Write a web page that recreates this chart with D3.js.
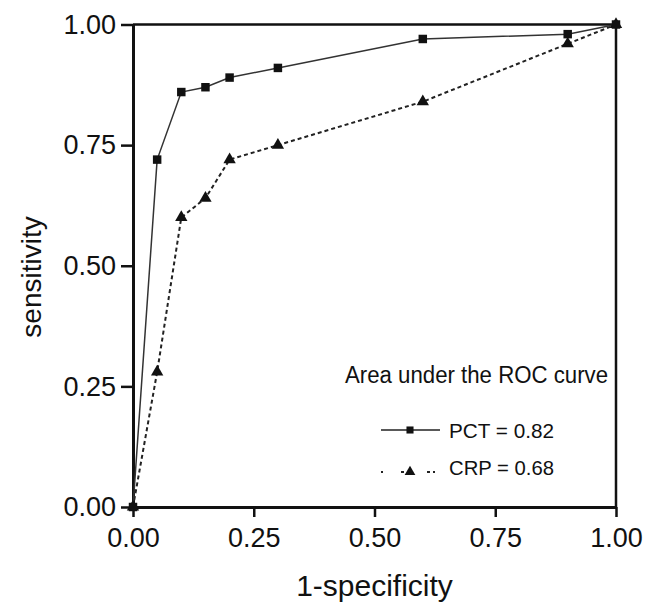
<!DOCTYPE html>
<html>
<head>
<meta charset="utf-8">
<script src="https://cdn.jsdelivr.net/npm/d3@7"></script>
<style>
  body { margin: 0; background: #fff; }
  text { font-family: Arial, "Liberation Sans", sans-serif; fill: #111; }
</style>
</head>
<body>
<svg id="chart"></svg>
<script>
// ROC data
const fpr = [0, 0.05, 0.10, 0.15, 0.20, 0.30, 0.60, 0.90, 1.00];
const pctSens = [0, 0.72, 0.86, 0.87, 0.89, 0.91, 0.97, 0.98, 1.00];
const crpSens = [0, 0.28, 0.60, 0.64, 0.72, 0.75, 0.84, 0.96, 1.00];
const ticks = [0, 0.25, 0.5, 0.75, 1];
const legendTitle = "Area under the ROC curve";
const seriesLabels = ["PCT = 0.82", "CRP = 0.68"];

const width = 649, height = 602;
const margin = { top: 24.5, right: 33, bottom: 95, left: 133 };

const svg = d3.select("#chart")
    .attr("width", width)
    .attr("height", height);

const x = d3.scaleLinear().domain([0, 1]).range([margin.left, width - margin.right]);
const y = d3.scaleLinear().domain([0, 1]).range([height - margin.bottom, margin.top]);

// frame (top and right)
svg.append("path")
    .attr("d", `M${x(0)},${y(1)}H${x(1)}V${y(0)}`)
    .attr("fill", "none")
    .attr("stroke", "#111")
    .attr("stroke-width", 2.5);

// axes
const xAxis = svg.append("g")
    .attr("transform", `translate(0,${y(0)})`)
    .call(d3.axisBottom(x).tickValues(ticks).tickFormat(d3.format(".2f"))
        .tickSize(10).tickSizeOuter(0).tickPadding(11));
const yAxis = svg.append("g")
    .attr("transform", `translate(${x(0)},0)`)
    .call(d3.axisLeft(y).tickValues(ticks).tickFormat(d3.format(".2f"))
        .tickSize(12).tickSizeOuter(0).tickPadding(5));

[xAxis, yAxis].forEach(g => {
  g.select(".domain").attr("stroke", "#111").attr("stroke-width", 3);
  g.selectAll(".tick line").attr("stroke", "#111").attr("stroke-width", 2.5);
  g.selectAll(".tick text")
    .attr("fill", "#111")
    .style("font-size", "27px")
    .style("font-family", "Arial, 'Liberation Sans', sans-serif");
});

// axis titles
svg.append("text")
    .attr("x", (x(0) + x(1)) / 2)
    .attr("y", 596)
    .attr("text-anchor", "middle")
    .style("font-size", "30px")
    .text("1-specificity");

svg.append("text")
    .attr("transform", `translate(41,277) rotate(-90)`)
    .attr("text-anchor", "middle")
    .style("font-size", "28px")
    .text("sensitivity");

// curves
const pctData = fpr.map((d, i) => [d, pctSens[i]]);
const crpData = fpr.map((d, i) => [d, crpSens[i]]);
const line = d3.line().x(d => x(d[0])).y(d => y(d[1]));

svg.append("path")
    .datum(crpData)
    .attr("d", line)
    .attr("fill", "none")
    .attr("stroke", "#222")
    .attr("stroke-width", 2)
    .attr("stroke-dasharray", "4,3");

svg.append("path")
    .datum(pctData)
    .attr("d", line)
    .attr("fill", "none")
    .attr("stroke", "#333")
    .attr("stroke-width", 1.5);

const square = d3.symbol().type(d3.symbolSquare).size(72);
const triangle = d3.symbol().type(d3.symbolTriangle).size(66);

svg.append("g").selectAll("path")
    .data(crpData)
    .join("path")
    .attr("transform", d => `translate(${x(d[0])},${y(d[1])})`)
    .attr("d", triangle)
    .attr("fill", "#111");

svg.append("g").selectAll("path")
    .data(pctData)
    .join("path")
    .attr("transform", d => `translate(${x(d[0])},${y(d[1])})`)
    .attr("d", square)
    .attr("fill", "#111");

// legend
const legend = svg.append("g");
legend.append("text")
    .attr("x", 345)
    .attr("y", 383)
    .attr("textLength", 263)
    .attr("lengthAdjust", "spacingAndGlyphs")
    .style("font-size", "23px")
    .text(legendTitle);

const rows = [
  { label: seriesLabels[0], y: 430, dash: null, sym: square, w: 1.5, base: 438 },
  { label: seriesLabels[1], y: 472, dash: "2,18,3,3", sym: triangle, w: 2, base: 475 }
];
rows.forEach(r => {
  legend.append("line")
      .attr("x1", 381).attr("x2", 440)
      .attr("y1", r.y).attr("y2", r.y)
      .attr("stroke", "#222")
      .attr("stroke-width", r.w)
      .attr("stroke-dasharray", r.dash);
  legend.append("path")
      .attr("transform", `translate(410,${r.y})`)
      .attr("d", r.sym.size(50)())
      .attr("fill", "#111");
  legend.append("text")
      .attr("x", 449)
      .attr("y", r.base)
      .attr("textLength", 105)
      .attr("lengthAdjust", "spacingAndGlyphs")
      .style("font-size", "20px")
      .text(r.label);
});
</script>
</body>
</html>
